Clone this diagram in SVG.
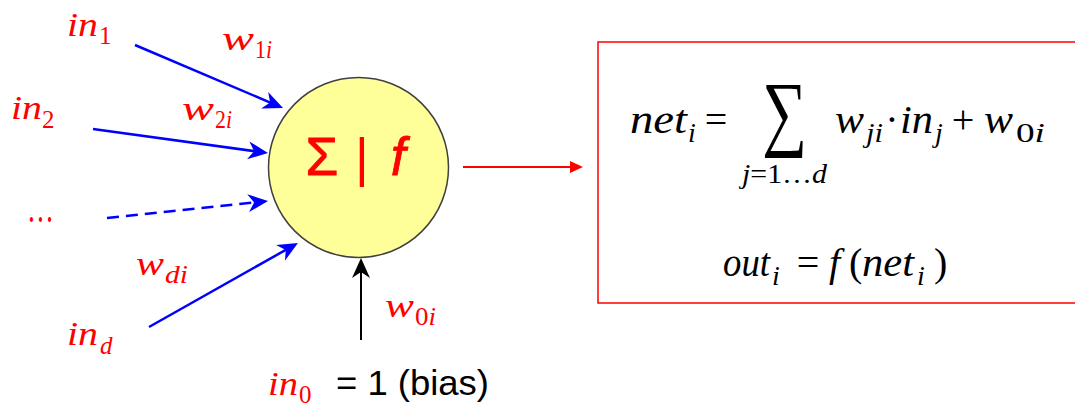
<svg xmlns="http://www.w3.org/2000/svg" width="1075" height="407" viewBox="0 0 1075 407">
<style>
.m{font-family:"Liberation Serif","Times New Roman",serif;font-style:italic}
.u{font-style:normal}
.r{fill:#FF0000}
.k{fill:#000000}
.lab{font-size:34px}
.ls{font-size:25px}
.fm{font-size:40px}
.fs{font-size:28px}
.ar{font-family:"Liberation Sans",Arial,sans-serif}
.blue{stroke:#0000FF;stroke-width:2.5;fill:none}
</style>
<defs>
<marker id="hb" markerUnits="userSpaceOnUse" viewBox="0 0 22 20" markerWidth="22" markerHeight="20" refX="8" refY="10" orient="auto">
<path d="M0,1 L20,10 L0,19 L6,10 Z" fill="#0000FF"/>
</marker>
<marker id="hk" markerUnits="userSpaceOnUse" viewBox="0 0 22 20" markerWidth="22" markerHeight="20" refX="8" refY="10" orient="auto">
<path d="M0,1 L20,10 L0,19 L6,10 Z" fill="#000000"/>
</marker>
<marker id="hr" markerUnits="userSpaceOnUse" viewBox="0 0 14 12" markerWidth="14" markerHeight="12" refX="2" refY="6" orient="auto">
<path d="M0,0 L13,6 L0,12 Z" fill="#FF0000"/>
</marker>
</defs>

<g id="connectors">
<line class="blue" x1="135" y1="45" x2="272" y2="103.3" marker-end="url(#hb)"/>
<line class="blue" x1="93" y1="129" x2="256.1" y2="151.4" marker-end="url(#hb)"/>
<line class="blue" x1="107" y1="218" x2="256.1" y2="202.3" stroke-dasharray="12,7" marker-end="url(#hb)"/>
<line class="blue" x1="149" y1="327" x2="287.5" y2="248.9" marker-end="url(#hb)"/>
<line x1="361" y1="340" x2="361" y2="270" stroke="#000" stroke-width="2" marker-end="url(#hk)"/>
<line x1="463" y1="167" x2="572" y2="167" stroke="#FF0000" stroke-width="2" marker-end="url(#hr)"/>
</g>

<g id="neuron">
<circle cx="358.5" cy="167.5" r="90" fill="#FFFF99" stroke="#404040" stroke-width="1.5"/>
<text class="ar r" x="322" y="175" font-size="53" text-anchor="middle" stroke="#FF0000" stroke-width="0.8">Σ</text>
<text class="ar r" x="362" y="176" font-size="53" text-anchor="middle">|</text>
<text class="ar r" x="398" y="175" font-size="53" font-style="italic" text-anchor="middle" stroke="#FF0000" stroke-width="0.8">f</text>
</g>

<g id="input-1">
<text class="m lab r" x="67" y="36" textLength="31" lengthAdjust="spacingAndGlyphs">in</text>
<text class="m ls r u" x="99" y="44">1</text>
</g>
<g id="weight-1">
<text class="m lab r" x="222" y="50" textLength="32" lengthAdjust="spacingAndGlyphs">w</text>
<text class="m ls r" x="255" y="58" textLength="17" lengthAdjust="spacingAndGlyphs"><tspan class="u">1</tspan>i</text>
</g>
<g id="input-2">
<text class="m lab r" x="11" y="119" textLength="31" lengthAdjust="spacingAndGlyphs">in</text>
<text class="m ls r u" x="42" y="128">2</text>
</g>
<g id="weight-2">
<text class="m lab r" x="182" y="120" textLength="32" lengthAdjust="spacingAndGlyphs">w</text>
<text class="m ls r" x="215" y="128" textLength="17" lengthAdjust="spacingAndGlyphs"><tspan class="u">2</tspan>i</text>
</g>
<g id="input-dots">
<text class="m r u" x="27" y="222" font-size="42" textLength="27" lengthAdjust="spacingAndGlyphs">…</text>
</g>
<g id="weight-d">
<text class="m lab r" x="136" y="275" textLength="28" lengthAdjust="spacingAndGlyphs">w</text>
<text class="m ls r" x="165" y="283" textLength="23" lengthAdjust="spacingAndGlyphs">di</text>
</g>
<g id="input-d">
<text class="m lab r" x="67" y="345" textLength="31" lengthAdjust="spacingAndGlyphs">in</text>
<text class="m ls r" x="100" y="354">d</text>
</g>
<g id="weight-0">
<text class="m lab r" x="385" y="317" textLength="29" lengthAdjust="spacingAndGlyphs">w</text>
<text class="m ls r" x="415" y="325" textLength="21" lengthAdjust="spacingAndGlyphs"><tspan class="u">0</tspan>i</text>
</g>
<g id="bias">
<text class="m lab r" x="268" y="395" textLength="30" lengthAdjust="spacingAndGlyphs">in</text>
<text class="m ls r u" x="299" y="403">0</text>
<text class="ar k" x="336" y="395" font-size="35" textLength="153" lengthAdjust="spacingAndGlyphs">= 1 (bias)</text>
</g>

<g id="formula-box">
<rect x="598" y="42" width="490" height="261" fill="none" stroke="#FF0000" stroke-width="1.5"/>
<text class="m fm k" x="630" y="133" textLength="57" lengthAdjust="spacingAndGlyphs">net</text>
<text class="m fs k" x="688" y="142">i</text>
<text class="m fm k u" x="716" y="133" text-anchor="middle">=</text>
<text class="k" x="762" y="140" font-family="Liberation Serif, serif" font-size="84" textLength="45" lengthAdjust="spacingAndGlyphs">∑</text>
<text class="m fs k" x="742" y="183" textLength="85" lengthAdjust="spacingAndGlyphs">j<tspan class="u">=1…</tspan>d</text>
<text class="m fm k" x="835" y="133" textLength="29" lengthAdjust="spacingAndGlyphs">w</text>
<text class="m fs k" x="866" y="142" textLength="17" lengthAdjust="spacingAndGlyphs">ji</text>
<text class="m fm k u" x="892" y="133" text-anchor="middle">·</text>
<text class="m fm k" x="900" y="133" textLength="33" lengthAdjust="spacingAndGlyphs">in</text>
<text class="m fs k" x="935" y="142">j</text>
<text class="m fm k u" x="963" y="133" text-anchor="middle">+</text>
<text class="m fm k" x="984" y="133" textLength="29" lengthAdjust="spacingAndGlyphs">w</text>
<text class="m fs k" x="1016" y="142" textLength="29" lengthAdjust="spacingAndGlyphs"><tspan class="u">0</tspan>i</text>
<text class="m fm k" x="723" y="276" textLength="47" lengthAdjust="spacingAndGlyphs">out</text>
<text class="m fs k" x="772" y="285">i</text>
<text class="m fm k u" x="808" y="276" text-anchor="middle">=</text>
<text class="m fm k" x="829" y="276">f</text>
<text class="m fm k u" x="849" y="276">(</text>
<text class="m fm k" x="862" y="276" textLength="52" lengthAdjust="spacingAndGlyphs">net</text>
<text class="m fs k" x="917" y="285">i</text>
<text class="m fm k u" x="934" y="276">)</text>
</g>
</svg>
